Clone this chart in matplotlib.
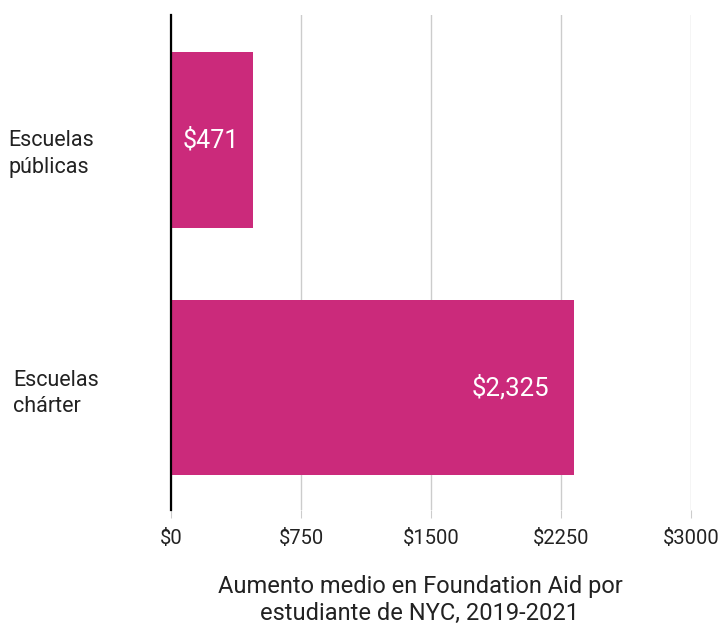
import matplotlib.pyplot as plt

# datos
categorias = ["Escuelas\npúblicas", "Escuelas\nchárter"]
valores = [471, 2325]
etiquetas = ["$471", "$2,325"]
ticks = [0, 750, 1500, 2250, 3000]
tick_labels = ["$0", "$750", "$1500", "$2250", "$3000"]

plt.rcParams['font.family'] = ['Roboto', 'DejaVu Sans']
color_barra = "#CB2A7B"

fig = plt.figure(figsize=(7.22, 6.3), dpi=100)
ax = fig.add_axes([171/722, 1 - 510/630, 520/722, 495/630])

pos = list(range(len(valores)))
ax.barh(pos, valores, height=0.711, color=color_barra, zorder=3)
ax.set_ylim(1.495, -0.505)
ax.set_xlim(0, 3000)

ax.set_xticks(ticks)
ax.set_xticklabels(tick_labels, fontsize=14.5, color="#222222")
ax.tick_params(axis='x', length=6, color="#cccccc", pad=8)
ax.set_yticks([])
ax.grid(axis='x', color="#cccccc", linewidth=1, zorder=0)

for s in ["top", "right", "bottom"]:
    ax.spines[s].set_visible(False)
ax.spines["left"].set_linewidth(1.6)
ax.spines["left"].set_color("black")
ax.spines["left"].set_zorder(4)

# etiquetas de categorias (a la izquierda)
xs_cat = [8, 13]
dy_cat = [-14, -6]
for p, cat, xp, dy in zip(pos, categorias, xs_cat, dy_cat):
    ax.annotate(cat, xy=(0, p), xycoords=('axes fraction', 'data'),
                xytext=(xp - 171, dy), textcoords='offset pixels',
                ha='left', va='center', fontsize=15.5, color="#222222",
                linespacing=1.32)

# valores dentro de las barras
ax.annotate(etiquetas[0], xy=(0, pos[0]), xytext=(12, 0), textcoords='offset pixels',
            ha='left', va='center', fontsize=18, color='white', zorder=5)
ax.annotate(etiquetas[1], xy=(valores[1], pos[1]), xytext=(-25, 0), textcoords='offset pixels',
            ha='right', va='center', fontsize=18.5, color='white', zorder=5)

fig.text(420/722, 1 - 600/630, "Aumento medio en Foundation Aid por\nestudiante de NYC, 2019-2021",
         ha='center', va='center', fontsize=17, color="#222222", linespacing=1.2)

fig.savefig("out.png", dpi=100)
